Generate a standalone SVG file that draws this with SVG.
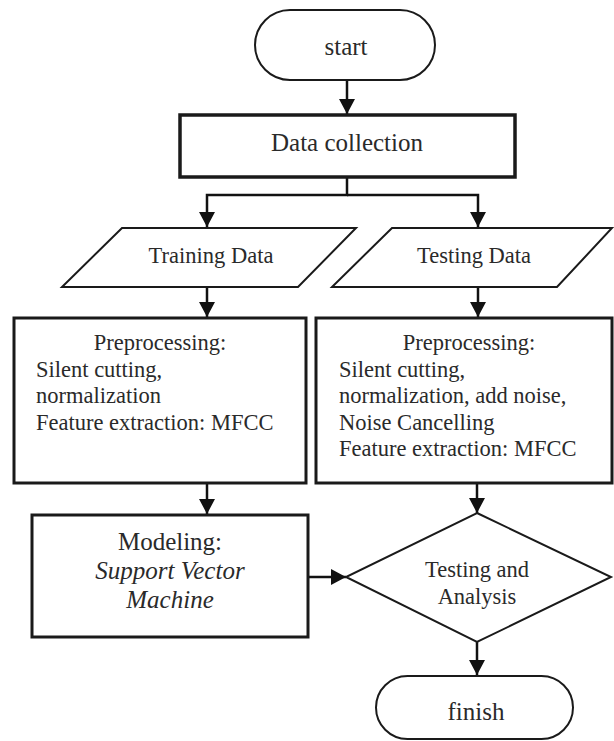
<svg xmlns="http://www.w3.org/2000/svg" width="614" height="741" viewBox="0 0 614 741">
<defs>
<marker id="ah" viewBox="0 0 15 16" markerWidth="15" markerHeight="16" refX="15" refY="8" orient="auto" markerUnits="userSpaceOnUse">
<path d="M0,0 L15,8 L0,16 z" fill="#111"/>
</marker>
<style>
text{font-family:"Liberation Serif","Times New Roman",serif;fill:#2a2a2a}
.s{fill:#fff;stroke:#1a1a1a;stroke-width:2}
.b{fill:#fff;stroke:#1a1a1a;stroke-width:3}
.c{fill:none;stroke:#111;stroke-width:2.5}
.m{text-anchor:middle}
.t22{font-size:22.5px}
.t25{font-size:25px}
</style>
</defs>
<rect width="614" height="741" fill="#fff"/>
<g id="connectors">
<line class="c" x1="347" y1="80" x2="347" y2="114" marker-end="url(#ah)"/>
<polyline class="c" points="347,177 347,195 207,195 207,227" marker-end="url(#ah)"/>
<polyline class="c" points="347,195 478,195 478,227" marker-end="url(#ah)"/>
<line class="c" x1="207" y1="287" x2="207" y2="317" marker-end="url(#ah)"/>
<line class="c" x1="478" y1="287" x2="478" y2="317" marker-end="url(#ah)"/>
<line class="c" x1="207" y1="483" x2="207" y2="514" marker-end="url(#ah)"/>
<line class="c" x1="477" y1="483" x2="477" y2="513" marker-end="url(#ah)"/>
<line class="c" x1="308" y1="577" x2="346" y2="577" marker-end="url(#ah)"/>
<line class="c" x1="477" y1="642" x2="477" y2="675" marker-end="url(#ah)"/>
</g>
<g id="start">
<rect class="s" x="255" y="10" width="180" height="70" rx="35" ry="35"/>
<text class="m t25" x="346" y="55">start</text>
</g>
<g id="data-collection">
<rect class="b" x="180" y="115" width="335" height="62" style="stroke-width:3.5"/>
<text class="m t25" x="347" y="151">Data collection</text>
</g>
<g id="training-data">
<polygon class="s" points="122,228 356,228 298,287 62,287"/>
<text class="m t22" x="211" y="263">Training Data</text>
</g>
<g id="testing-data">
<polygon class="s" points="392,228 612,228 557,287 332,287"/>
<text class="m t22" x="474" y="263">Testing Data</text>
</g>
<g id="train-preprocessing">
<rect class="b" x="14" y="318" width="292" height="165"/>
<text class="m t22" x="160" y="350">Preprocessing:</text>
<text class="t22" x="36" y="376.5">Silent cutting,</text>
<text class="t22" x="36" y="403">normalization</text>
<text class="t22" x="36" y="429.5">Feature extraction: MFCC</text>
</g>
<g id="test-preprocessing">
<rect class="b" x="316" y="318" width="296" height="165"/>
<text class="m t22" x="469" y="350">Preprocessing:</text>
<text class="t22" x="339" y="376.5">Silent cutting,</text>
<text class="t22" x="339" y="403">normalization, add noise,</text>
<text class="t22" x="339" y="429.5">Noise Cancelling</text>
<text class="t22" x="339" y="456">Feature extraction: MFCC</text>
</g>
<g id="modeling">
<rect class="b" x="32" y="515" width="276" height="122"/>
<text class="m t25" x="170" y="550">Modeling:</text>
<text class="m t25" x="170" y="579" font-style="italic">Support Vector</text>
<text class="m t25" x="170" y="608" font-style="italic">Machine</text>
</g>
<g id="testing-analysis">
<polygon class="s" points="477,513 611,577 477,642 346,577"/>
<text class="m t22" x="477" y="577">Testing and</text>
<text class="m t22" x="477" y="604">Analysis</text>
</g>
<g id="finish">
<rect class="s" x="376" y="676" width="197" height="63" rx="31.5" ry="31.5"/>
<text class="m t25" x="476" y="720">finish</text>
</g>
</svg>
